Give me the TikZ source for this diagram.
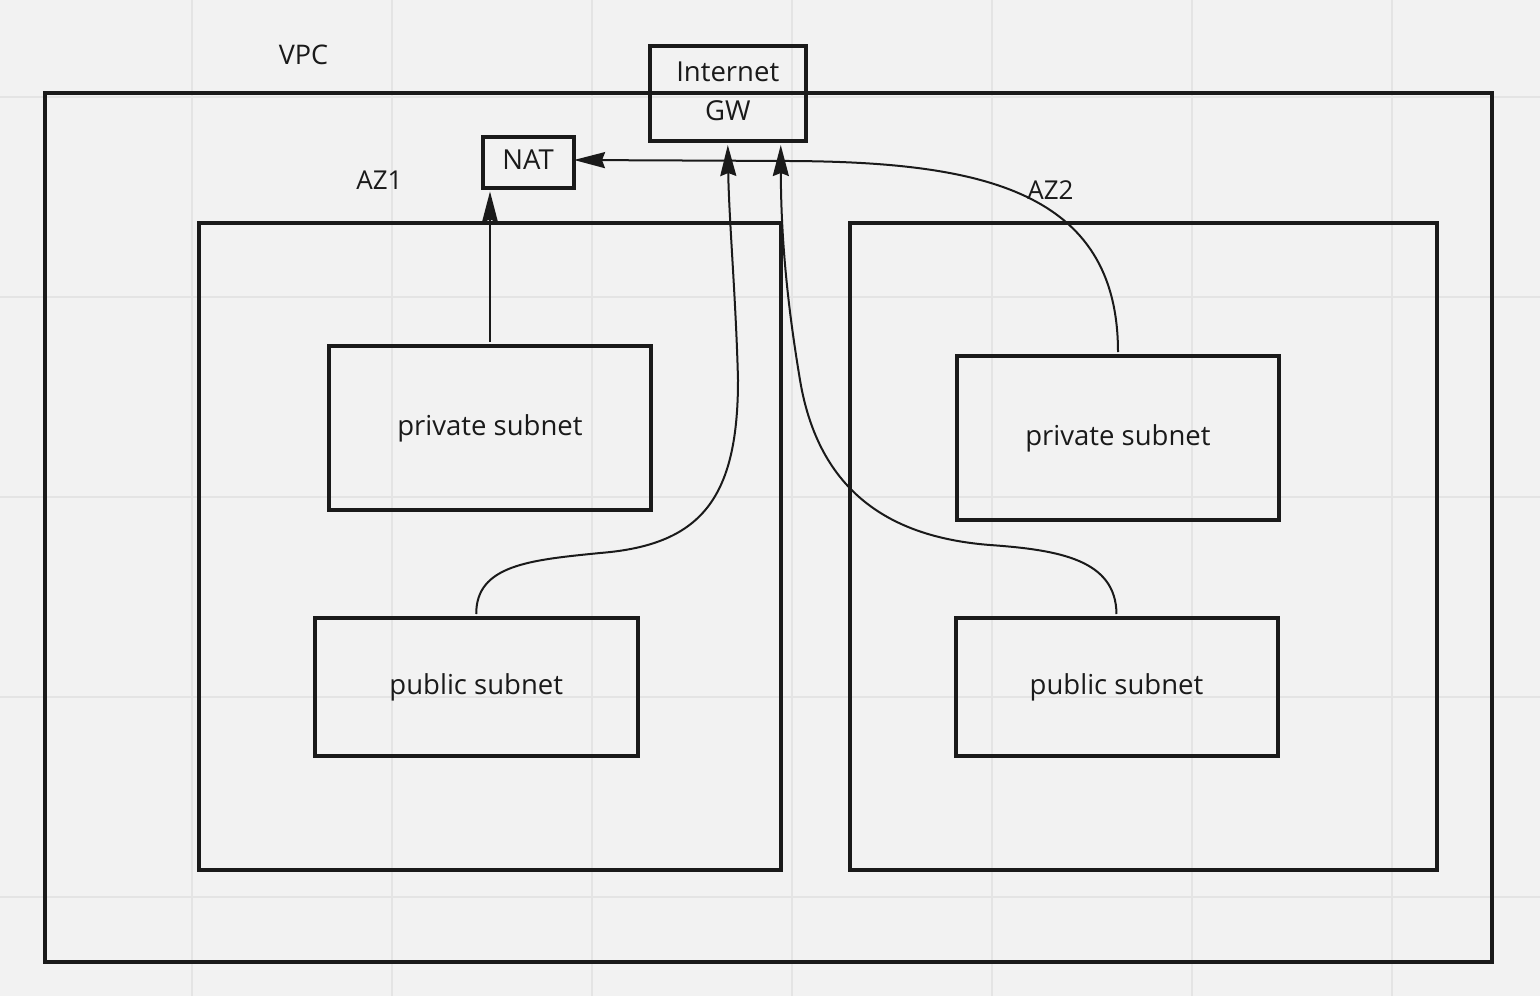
\documentclass[tikz,border=0pt]{standalone}
\usepackage{fontspec}
\setmainfont{Open Sans}
\usetikzlibrary{arrows.meta,calc}
\definecolor{bg}{HTML}{F2F2F2}
\definecolor{gridc}{HTML}{E4E4E4}
\definecolor{ink}{HTML}{1A1A1A}
\begin{document}
\begin{tikzpicture}[x=1pt,y=-1pt,
  box/.style={draw=ink, line width=4pt, rectangle, inner sep=0pt,
    font=\fontsize{27.5}{33}\selectfont, text=ink, text height=20pt, text depth=5pt},
  lbl/.style={text=ink, inner sep=0pt, anchor=base},
  conn/.style={draw=ink, line width=2pt, -{Stealth[length=31pt,width=16pt,inset=3pt]},
    shorten <=2pt, shorten >=2pt},
  gridline/.style={draw=gridc, line width=1.5pt}
]
\useasboundingbox (0,0) rectangle (1540,996);
\fill[bg] (0,0) rectangle (1540,996);
\foreach \gx in {192,392,...,1392} \draw[gridline] (\gx,0) -- (\gx,996);
\foreach \gy in {97,297,...,897} \draw[gridline] (0,\gy) -- (1540,\gy);

% containers
\node[box, minimum width=1447.5pt, minimum height=869.5pt] (vpcbox) at (768.25,527.25) {};
\node[box, minimum width=582pt, minimum height=647.5pt] (az1box) at (490,546.25) {};
\node[box, minimum width=587pt, minimum height=647.5pt] (az2box) at (1143.5,546.25) {};

% labels
\node[lbl, font=\fontsize{27}{32}\selectfont] (vpc) at (303.5,64) {VPC};
\node[lbl, font=\fontsize{26}{31}\selectfont] (az1) at (379.5,189) {AZ1};
\node[lbl, font=\fontsize{26}{31}\selectfont] (az2) at (1050.5,199) {AZ2};

% gateways
\node[box, minimum width=91pt, minimum height=51pt] (nat) at (528,162) {NAT};
\node[draw=ink, line width=4pt, rectangle, inner sep=0pt, text=ink, align=center,
  font=\fontsize{27.5}{39}\selectfont, minimum width=155.5pt, minimum height=95pt]
  (gw) at (727.75,93.5) {Internet\\GW\rule[-4pt]{0pt}{4pt}};

% subnets
\node[box, minimum width=322pt, minimum height=163.5pt] (priv1) at (490,427.75) {private subnet};
\node[box, minimum width=323.5pt, minimum height=137.5pt] (pub1) at (476.25,686.75) {public subnet};
\node[box, minimum width=322pt, minimum height=164pt] (priv2) at (1118,438) {private subnet};
\node[box, minimum width=322pt, minimum height=137.5pt] (pub2) at (1116.5,686.75) {public subnet};

% connectors
\draw[conn] (priv1.north) -- (priv1.north |- nat.south);
\draw[conn] (pub1.north) .. controls (476,565) and (530,560) .. (600,553)
  .. controls (700,545) and (738,500) .. (738,380)
  .. controls (736,300) and (729,220) .. (gw.south);
\draw[conn] (pub2.north) .. controls (1116,560) and (1060,550) .. (990,545)
  .. controls (900,538) and (820,500) .. (800,380)
  .. controls (790,320) and (781,250) .. ([xshift=53pt]gw.south);
\draw[conn, shorten >=-1.5pt] (priv2.north) .. controls (1118,190) and (980,162) .. (790,161)
  -- ([yshift=2pt]nat.east);
\end{tikzpicture}
\end{document}
